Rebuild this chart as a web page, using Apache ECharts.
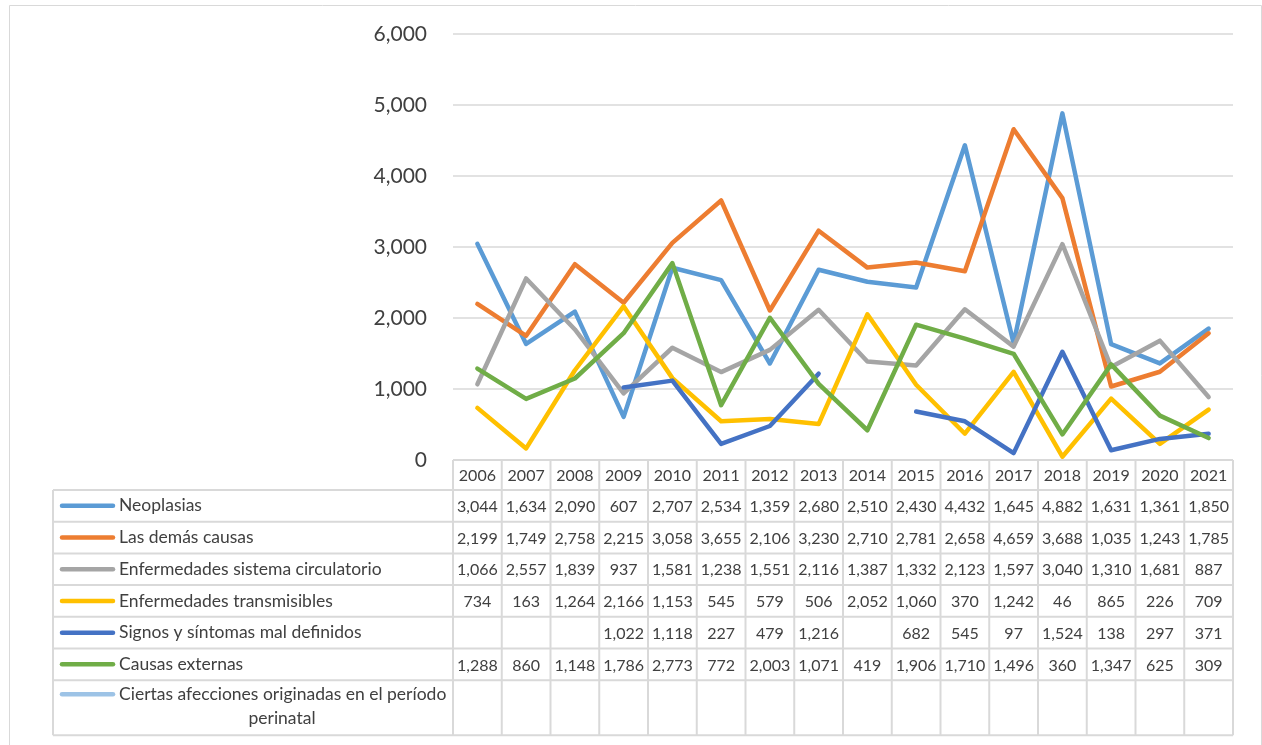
<!DOCTYPE html>
<html>
<head>
<meta charset="utf-8">
<script src="https://cdn.jsdelivr.net/npm/echarts@6/dist/echarts.min.js"></script>
<style>
  html, body { margin: 0; padding: 0; background: #ffffff; }
  #chart { width: 1262px; height: 745px; }
</style>
</head>
<body>
<div id="chart"></div>
<script>
// Defunciones por grupo de causas, 2006-2021
const years = ['2006','2007','2008','2009','2010','2011','2012','2013','2014','2015','2016','2017','2018','2019','2020','2021'];
const seriesNames = [
  'Neoplasias',
  'Las demás causas',
  'Enfermedades sistema circulatorio',
  'Enfermedades transmisibles',
  'Signos y síntomas mal definidos',
  'Causas externas',
  'Ciertas afecciones originadas en el período perinatal'
];
const neoplasias    = [3044,1634,2090,607,2707,2534,1359,2680,2510,2430,4432,1645,4882,1631,1361,1850];
const demasCausas   = [2199,1749,2758,2215,3058,3655,2106,3230,2710,2781,2658,4659,3688,1035,1243,1785];
const circulatorio  = [1066,2557,1839,937,1581,1238,1551,2116,1387,1332,2123,1597,3040,1310,1681,887];
const transmisibles = [734,163,1264,2166,1153,545,579,506,2052,1060,370,1242,46,865,226,709];
const signos        = [null,null,null,1022,1118,227,479,1216,null,682,545,97,1524,138,297,371];
const externas      = [1288,860,1148,1786,2773,772,2003,1071,419,1906,1710,1496,360,1347,625,309];
const perinatal     = [null,null,null,null,null,null,null,null,null,null,null,null,null,null,null,null];
const yTicks = [0,1000,2000,3000,4000,5000,6000];

const seriesData = [neoplasias, demasCausas, circulatorio, transmisibles, signos, externas, perinatal];
const colors = ['#5B9BD5','#ED7D31','#A5A5A5','#FFC000','#4472C4','#70AD47','#9DC3E6'];

const FONT = 'Lato, "Open Sans", sans-serif';
const TEXT = '#404040';
const BORDER = '#D9D9D9';
const fmt = v => (v === null || v === undefined) ? '' : Number(v).toLocaleString('en-US');

const chart = echarts.init(document.getElementById('chart'), null, { renderer: 'canvas' });

chart.setOption({
  animation: false,
  backgroundColor: '#ffffff',
  textStyle: { fontFamily: FONT },
  grid: { left: 453, right: 29, top: 34, bottom: 285, containLabel: false },
  xAxis: {
    type: 'category',
    data: years,
    boundaryGap: true,
    axisLine: { show: false },
    axisTick: { show: false },
    axisLabel: { show: false },
    splitLine: { show: false }
  },
  yAxis: {
    type: 'value',
    min: yTicks[0],
    max: yTicks[yTicks.length - 1],
    interval: yTicks[1] - yTicks[0],
    axisLine: { show: false },
    axisTick: { show: false },
    axisLabel: {
      color: TEXT, fontSize: 21, fontFamily: FONT, margin: 26,
      formatter: v => fmt(v)
    },
    splitLine: { lineStyle: { color: BORDER, width: 1.5 } }
  },
  series: seriesNames.map((name, i) => ({
    name: name,
    type: 'line',
    data: seriesData[i],
    symbol: 'none',
    connectNulls: false,
    lineStyle: { color: colors[i], width: 4.5, cap: 'round', join: 'round' },
    itemStyle: { color: colors[i] }
  }))
});

// Data table below the plot: header row of years, then one row per series
function buildTable() {
  const x0 = chart.convertToPixel({ xAxisIndex: 0 }, years[0]);
  const x1 = chart.convertToPixel({ xAxisIndex: 0 }, years[1]);
  const band = x1 - x0;
  const colLeft = i => chart.convertToPixel({ xAxisIndex: 0 }, years[i]) - band / 2;
  const dataLeft = colLeft(0);
  const dataRight = colLeft(years.length - 1) + band;
  const tableLeft = 53;
  const headerTop = chart.convertToPixel({ yAxisIndex: 0 }, 0);
  const headerH = 30;
  const rowH = 31.7;
  const lastRowH = 55;

  const els = [];
  const line = (xa, ya, xb, yb) => els.push({
    type: 'line', silent: true,
    shape: { x1: xa, y1: ya, x2: xb, y2: yb },
    style: { stroke: BORDER, lineWidth: 2 }
  });
  const text = (str, x, y, align, size) => els.push({
    type: 'text', silent: true,
    style: {
      text: str, x: x, y: y, align: align || 'center', verticalAlign: 'middle',
      fill: TEXT, fontSize: size || 16, fontFamily: FONT
    }
  });

  // row boundaries
  const rowTops = [];
  let y = headerTop + headerH;
  for (let r = 0; r < seriesNames.length; r++) {
    rowTops.push(y);
    y += (r === seriesNames.length - 1) ? lastRowH : rowH;
  }
  const tableBottom = y;

  // horizontal borders
  line(dataLeft, headerTop, dataRight, headerTop);
  rowTops.forEach(t => line(tableLeft, t, dataRight, t));
  line(tableLeft, tableBottom, dataRight, tableBottom);

  // vertical borders
  line(tableLeft, rowTops[0], tableLeft, tableBottom);
  for (let i = 0; i <= years.length; i++) {
    const xx = i < years.length ? colLeft(i) : dataRight;
    line(xx, headerTop, xx, tableBottom);
  }

  // header: years
  years.forEach((yr, i) => text(yr, colLeft(i) + band / 2, headerTop + headerH / 2 + 1));

  // series rows
  const nameSize = 17.5;
  seriesNames.forEach((name, r) => {
    const isLast = r === seriesNames.length - 1;
    const top = rowTops[r];
    const h = isLast ? lastRowH : rowH;
    const cy = isLast ? top + 14 : top + h / 2;
    // legend key
    els.push({
      type: 'line', silent: true,
      shape: { x1: 62, y1: cy, x2: 113, y2: cy },
      style: { stroke: colors[r], lineWidth: 4.5, lineCap: 'round' }
    });
    if (isLast) {
      text('Ciertas afecciones originadas en el período', 119, cy, 'left', nameSize);
      text('perinatal', 282, cy + 24, 'center', nameSize);
    } else {
      text(name, 119, cy, 'left', nameSize);
    }
    // values
    seriesData[r].forEach((v, i) => {
      if (v !== null) text(fmt(v), colLeft(i) + band / 2, cy + 1);
    });
  });

  // chart frame
  els.push({
    type: 'rect', silent: true, z: -1,
    shape: { x: 9.5, y: 5.5, width: 1252, height: 800 },
    style: { fill: 'none', stroke: BORDER, lineWidth: 1 }
  });

  chart.setOption({ graphic: { elements: els } });
}

buildTable();
</script>
</body>
</html>
